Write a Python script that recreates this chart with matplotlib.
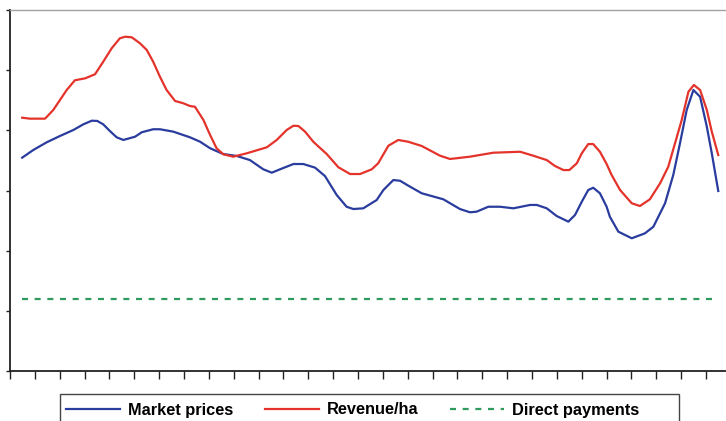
import matplotlib.pyplot as plt
from matplotlib.patches import Rectangle

# series sampled along the time axis (tick units), smoothed curves
market_x = [0.49, 0.94, 1.48, 2.01, 2.55, 2.95, 3.29, 3.51, 3.75, 4.02, 4.29, 4.56,
            5.03, 5.30, 5.76, 6.03, 6.57, 7.24, 7.64, 8.05, 8.58, 9.12, 9.65, 10.19,
            10.53, 10.86, 11.40, 11.80, 12.27, 12.67, 13.14, 13.54, 13.81, 14.21,
            14.75, 15.02, 15.42, 15.69, 16.09, 16.56, 17.43, 18.10, 18.50, 18.77,
            19.24, 19.71, 20.25, 20.92, 21.19, 21.59, 21.99, 22.46, 22.73, 23.00,
            23.26, 23.46, 23.73, 24.00, 24.13, 24.47, 25.01, 25.54, 25.88, 26.35,
            26.68, 26.95, 27.22, 27.49, 27.76, 28.03, 28.23, 28.49]
market_prices = [177.3, 183.7, 190.1, 195.3, 200.3, 205.0, 208.0, 207.8, 205.0, 199.4,
                 194.2, 192.0, 194.7, 198.4, 200.9, 200.9, 198.9, 194.2, 190.6, 185.1,
                 180.3, 178.7, 175.3, 167.6, 164.8, 167.6, 172.0, 172.0, 169.0, 162.0,
                 146.3, 136.5, 134.6, 135.2, 142.1, 150.4, 158.7, 158.1, 153.2, 147.7,
                 142.7, 134.6, 131.9, 132.4, 136.5, 136.5, 135.2, 138.0, 138.0, 135.2,
                 128.8, 124.1, 129.7, 140.7, 150.4, 152.3, 147.7, 136.5, 128.2, 115.8,
                 110.3, 114.4, 119.9, 139.4, 162.9, 189.2, 216.9, 233.5, 227.9, 203.0,
                 180.9, 149.6]

revenue_x = [0.49, 0.80, 1.41, 1.74, 2.28, 2.61, 3.02, 3.42, 3.75, 4.09, 4.42, 4.63,
             4.90, 5.23, 5.50, 5.76, 6.03, 6.30, 6.64, 6.97, 7.24, 7.44, 7.78, 8.05,
             8.31, 8.58, 8.98, 9.52, 10.33, 10.73, 11.13, 11.40, 11.60, 11.87, 12.20,
             12.74, 13.21, 13.68, 14.08, 14.55, 14.81, 15.22, 15.62, 16.02, 16.56,
             17.30, 17.70, 18.50, 19.44, 20.52, 21.05, 21.59, 21.92, 22.26, 22.50,
             22.80, 23.00, 23.26, 23.46, 23.73, 24.00, 24.20, 24.54, 25.01, 25.34,
             25.74, 26.15, 26.48, 26.75, 27.02, 27.29, 27.51, 27.76, 28.03, 28.23, 28.49]
revenue_ha = [210.5, 209.7, 209.7, 216.9, 233.5, 241.6, 243.2, 246.6, 257.0, 268.2,
              276.5, 277.8, 277.3, 272.3, 266.8, 257.0, 244.6, 233.5, 224.4, 222.5,
              220.2, 219.6, 208.6, 196.1, 185.1, 180.1, 178.1, 180.9, 185.9, 192.0,
              200.3, 203.8, 203.6, 198.9, 190.5, 180.3, 169.3, 163.7, 163.7, 167.6,
              172.6, 187.2, 192.0, 190.5, 187.0, 178.9, 176.2, 178.1, 181.4, 182.2,
              178.9, 175.3, 170.4, 167.0, 167.0, 172.6, 180.9, 188.6, 188.6, 182.2,
              172.0, 162.9, 150.4, 139.4, 137.1, 142.7, 156.0, 169.8, 189.2, 208.6,
              232.1, 237.7, 233.5, 216.9, 198.9, 179.5]

direct_x = [0.49, 28.49]
direct_payments = [60, 60]

plt.rcParams['font.family'] = ['Liberation Sans', 'DejaVu Sans']

fig = plt.figure(figsize=(7.26, 4.21), dpi=100)
ax = fig.add_axes([10 / 726, 50 / 421, 716 / 726, 361 / 421])

ax.plot(market_x, market_prices, color='#2a3c9e', lw=1.6, label='Market prices')
ax.plot(revenue_x, revenue_ha, color='#e4332b', lw=1.6, label='Revenue/ha')
ax.plot(direct_x, direct_payments, color='#2e9a5e', lw=1.6, dashes=(2.7, 3.0),
        label='Direct payments')

ax.set_xlim(0, 716 / 24.86)
ax.set_ylim(0, 300)
ax.set_xticks(range(29))
ax.set_yticks(range(0, 301, 50))
ax.set_xticklabels([])
ax.set_yticklabels([])
ax.tick_params(axis='x', direction='out', length=5.5, width=1, color='#222222')
ax.tick_params(axis='y', direction='out', length=3, width=1, color='#222222')

ax.spines['right'].set_visible(False)
ax.spines['top'].set_color('#a0a0a0')
ax.spines['top'].set_linewidth(1)
ax.spines['left'].set_linewidth(1.3)
ax.spines['bottom'].set_linewidth(1.3)
ax.spines['left'].set_color('#222222')
ax.spines['bottom'].set_color('#222222')

# legend entries without their own frame; a wider box is drawn around them
fig.legend(loc='center left', bbox_to_anchor=(66 / 726, 1 - 410 / 421), ncol=3,
           frameon=False, prop={'weight': 'bold', 'size': 11.8}, handlelength=3.3,
           handletextpad=0.5, columnspacing=1.9, borderpad=0, borderaxespad=0)
fig.patches.append(Rectangle((60 / 726, -4 / 421), 619 / 726, 31 / 421,
                             transform=fig.transFigure, fill=False,
                             edgecolor='#444444', lw=1.0, clip_on=False))

fig.savefig('out.png', dpi=100)
